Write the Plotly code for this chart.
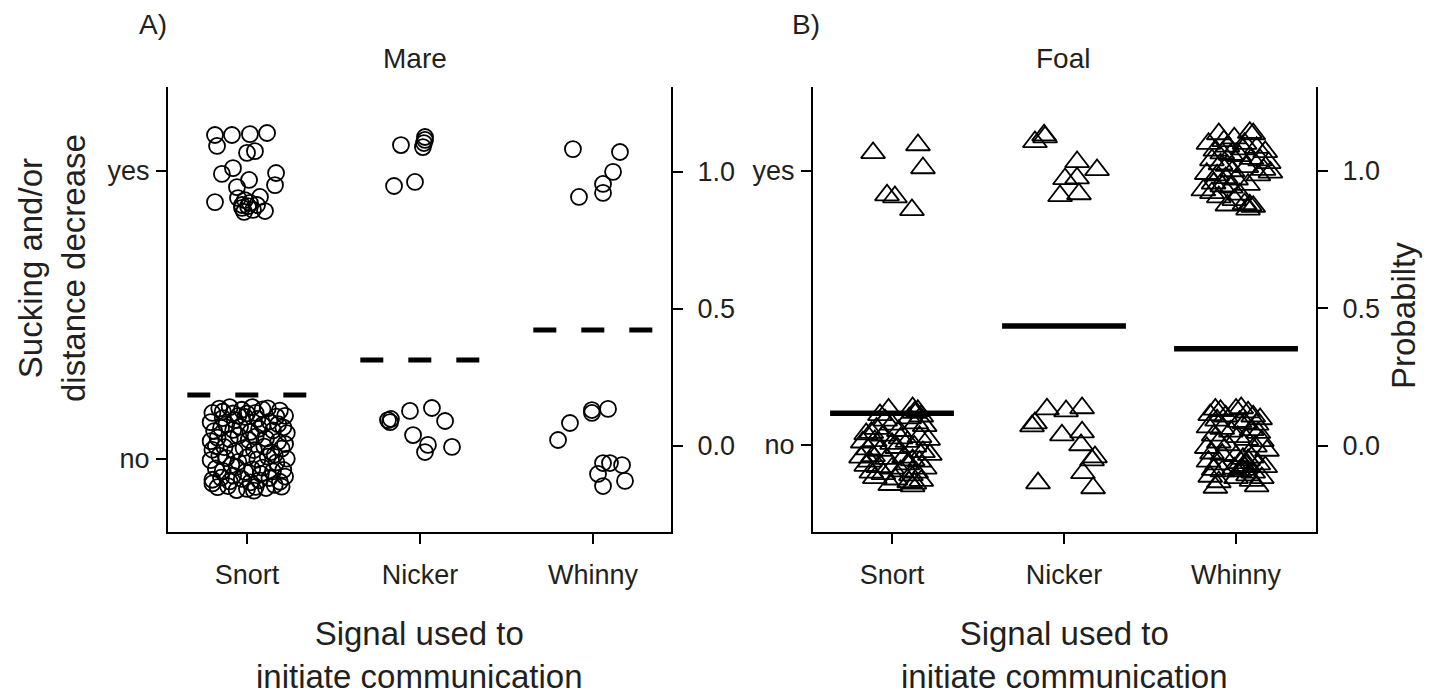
import plotly.graph_objects as go

W, H = 1437, 698

categories = ["Snort", "Nicker", "Whinny"]
cat_pos = [1, 2, 3]

# ---------- Panel A (Mare) : jittered raw observations (left axis: no=0, yes=1)
mare_snort_yes_x = [0.815, 0.913, 1.017, 1.116, 0.827, 1.000, 1.046, 0.855, 0.919, 1.012, 1.168, 1.162,
                    0.942, 0.815, 0.948, 0.988, 1.075, 0.971, 1.006, 1.035, 1.104, 0.971, 1.017, 1.058, 0.983]
mare_snort_yes_y = [1.125, 1.125, 1.128, 1.132, 1.087, 1.063, 1.069, 0.990, 1.010, 0.969, 0.993, 0.951,
                    0.944, 0.892, 0.906, 0.899, 0.910, 0.872, 0.878, 0.865, 0.861, 0.882, 0.889, 0.882, 0.858]

mare_snort_no_x = [0.84, 0.90, 0.97, 1.03, 1.12, 1.19, 0.80, 1.00, 1.22,
                   0.79, 0.86, 0.93, 0.99, 1.06, 1.13, 1.17, 0.88, 1.09,
                   0.81, 0.85, 0.92, 0.96, 1.02, 1.07, 1.15, 1.21, 1.23,
                   0.79, 0.83, 0.90, 0.95, 1.01, 1.05, 1.11, 1.18, 1.22,
                   0.80, 0.87, 0.93, 0.98, 1.04, 1.10, 1.14, 1.20, 0.84,
                   0.79, 0.88, 0.95, 1.00, 1.06, 1.12, 1.17, 1.23, 0.91,
                   0.82, 0.86, 0.94, 0.99, 1.03, 1.09, 1.15, 1.21, 1.08,
                   0.80, 0.85, 0.90, 0.97, 1.02, 1.07, 1.13, 1.19, 1.22,
                   0.80, 0.83, 0.89, 0.94, 1.00, 1.05, 1.11, 1.16, 1.20,
                   0.86, 0.92, 1.05, 1.09, 0.95, 1.18, 0.82, 1.16, 0.92, 1.04]
mare_snort_no_y = [0.175, 0.180, 0.171, 0.180, 0.176, 0.168, 0.160, 0.158, 0.150,
                   0.128, 0.142, 0.135, 0.146, 0.139, 0.130, 0.147, 0.120, 0.118,
                   0.097, 0.108, 0.101, 0.112, 0.094, 0.105, 0.099, 0.110, 0.090,
                   0.062, 0.074, 0.069, 0.081, 0.066, 0.078, 0.071, 0.060, 0.052,
                   0.032, 0.041, 0.027, 0.038, 0.031, 0.043, 0.024, 0.036, 0.012,
                   -0.004, 0.003, -0.010, 0.006, -0.002, 0.008, -0.012, 0.001, -0.021,
                   -0.033, -0.041, -0.028, -0.045, -0.036, -0.030, -0.043, -0.038, -0.052,
                   -0.072, -0.065, -0.078, -0.069, -0.081, -0.074, -0.066, -0.079, -0.061,
                   -0.085, -0.098, -0.094, -0.108, -0.104, -0.097, -0.101, -0.090, -0.096,
                   0.165, 0.158, 0.160, 0.172, 0.150, 0.121, 0.045, 0.015, -0.058, -0.110]

mare_nicker_yes_x = [1.890, 2.029, 2.029, 2.023, 2.017, 1.850, 1.971]
mare_nicker_yes_y = [1.090, 1.118, 1.108, 1.097, 1.083, 0.948, 0.962]
mare_nicker_no_x = [1.815, 1.827, 1.832, 1.942, 2.069, 2.145, 1.960, 2.046, 2.029, 2.185]
mare_nicker_no_y = [0.135, 0.128, 0.139, 0.167, 0.177, 0.132, 0.083, 0.049, 0.024, 0.042]

mare_whinny_yes_x = [2.884, 3.156, 3.116, 3.058, 3.058, 2.919]
mare_whinny_yes_y = [1.076, 1.066, 0.997, 0.955, 0.924, 0.910]
mare_whinny_no_x = [2.798, 2.867, 2.994, 2.994, 3.087, 3.058, 3.098, 3.168, 3.029, 3.058, 3.185]
mare_whinny_no_y = [0.066, 0.125, 0.170, 0.160, 0.174, -0.014, -0.014, -0.021, -0.052, -0.094, -0.076]

# model probabilities (right axis)
mare_prob = [0.186, 0.314, 0.423]

# ---------- Panel B (Foal)
foal_snort_yes_x = [0.890, 1.151, 1.180, 0.971, 1.017, 1.116]
foal_snort_yes_y = [1.066, 1.095, 1.011, 0.912, 0.905, 0.858]
foal_snort_no_x = [0.98, 1.12, 1.15, 1.13, 0.93, 1.17, 1.10, 0.96, 1.00, 1.14, 1.19, 0.91, 1.04, 0.85,
                   0.88, 0.95, 1.16, 1.21, 0.83, 0.90, 1.00, 1.09, 1.13, 0.86, 0.93, 1.03, 1.18, 1.22,
                   0.82, 0.89, 0.97, 1.07, 1.12, 1.16, 0.85, 0.92, 1.00, 1.09, 1.19, 0.88, 0.95, 1.05,
                   1.11, 1.14, 0.90, 1.02, 1.10, 1.13, 1.17, 0.99, 1.12, 0.87, 1.05]
foal_snort_no_y = [0.130, 0.135, 0.125, 0.118, 0.110, 0.105, 0.098, 0.090, 0.075, 0.080, 0.070, 0.060,
                   0.052, 0.040, 0.045, 0.035, 0.030, 0.020, 0.010, 0.015, 0.005, 0.012, -0.005, -0.015,
                   -0.020, -0.010, -0.025, -0.035, -0.045, -0.040, -0.050, -0.045, -0.055, -0.060,
                   -0.075, -0.080, -0.085, -0.070, -0.085, -0.100, -0.105, -0.095, -0.110, -0.100,
                   -0.120, -0.125, -0.135, -0.140, -0.130, -0.145, -0.150, -0.060, 0.025]

foal_nicker_yes_x = [1.831, 1.884, 1.890, 2.076, 2.192, 2.006, 2.076, 1.977, 2.087]
foal_nicker_yes_y = [1.106, 1.131, 1.124, 1.033, 1.004, 0.971, 0.974, 0.909, 0.916]
foal_nicker_no_x = [1.901, 2.012, 2.105, 1.831, 1.814, 1.988, 2.105, 2.099, 2.180, 2.163, 2.110, 1.849, 2.169]
foal_nicker_no_y = [0.131, 0.124, 0.135, 0.080, 0.069, 0.036, 0.047, 0.000, -0.044, -0.055, -0.102, -0.139, -0.157]

foal_whinny_yes_x = [2.90, 3.08, 3.10, 2.84, 2.93, 2.95, 3.05, 3.12, 3.17, 2.88, 2.92, 2.97, 3.02, 3.09,
                     3.14, 3.19, 2.86, 2.91, 2.95, 3.06, 3.16, 3.20, 2.83, 2.89, 2.94, 3.00, 3.13, 2.87,
                     2.92, 2.97, 3.07, 2.81, 2.86, 3.02, 2.99, 3.05, 3.08, 3.10, 2.95, 3.07, 2.90, 2.98,
                     3.04, 2.99]
foal_whinny_yes_y = [1.135, 1.140, 1.135, 1.100, 1.110, 1.090, 1.100, 1.085, 1.070, 1.075, 1.065, 1.060,
                     1.055, 1.045, 1.040, 1.030, 1.040, 1.025, 1.020, 1.015, 1.005, 0.995, 0.990, 0.985,
                     0.975, 0.970, 0.985, 0.955, 0.945, 0.940, 0.950, 0.930, 0.920, 0.915, 0.895, 0.880,
                     0.875, 0.870, 0.875, 0.860, 0.905, 1.000, 1.080, 1.120]
foal_whinny_no_x = [2.88, 2.91, 3.00, 3.03, 3.07, 2.85, 2.94, 3.10, 3.14, 2.89, 3.02, 3.05, 3.12, 2.84,
                    2.92, 2.97, 3.09, 3.13, 2.87, 3.01, 3.06, 3.15, 2.90, 2.95, 2.83, 3.11, 3.18, 2.86,
                    2.92, 3.00, 3.04, 3.07, 3.09, 2.84, 2.89, 3.03, 3.06, 3.13, 3.17, 2.87, 2.92, 2.99,
                    3.04, 3.10, 2.85, 3.00, 3.07, 3.15, 2.90, 3.09, 2.88, 3.12, 3.02, 3.05]
foal_whinny_no_y = [0.130, 0.125, 0.130, 0.135, 0.120, 0.110, 0.105, 0.105, 0.095, 0.090, 0.085, 0.080,
                    0.075, 0.065, 0.060, 0.050, 0.055, 0.045, 0.035, 0.030, 0.020, 0.015, 0.010, 0.000,
                    -0.010, -0.005, -0.020, -0.030, -0.035, -0.040, -0.050, -0.055, -0.045, -0.060,
                    -0.070, -0.065, -0.075, -0.070, -0.080, -0.090, -0.095, -0.085, -0.090, -0.100,
                    -0.115, -0.120, -0.110, -0.120, -0.135, -0.130, -0.155, -0.150, -0.095, -0.080]

foal_prob = [0.119, 0.436, 0.353]

left_ticks = ["no", "yes"]
right_tickvals = [0.0, 0.5, 1.0]
right_ticktext = ["0.0", "0.5", "1.0"]

# ---------- figure
TXT = "#231f20"
FONT = "Liberation Sans, Arial, sans-serif"
fig = go.Figure()

circ = dict(symbol="circle-open", size=16, color="black", line=dict(width=1.8, color="black"))
tri = dict(symbol="triangle-up-open", size=21, color="black", line=dict(width=1.8, color="black"))

for xs, ys in [(mare_snort_yes_x, mare_snort_yes_y), (mare_snort_no_x, mare_snort_no_y),
               (mare_nicker_yes_x, mare_nicker_yes_y), (mare_nicker_no_x, mare_nicker_no_y),
               (mare_whinny_yes_x, mare_whinny_yes_y), (mare_whinny_no_x, mare_whinny_no_y)]:
    fig.add_trace(go.Scatter(x=xs, y=ys, mode="markers", marker=circ, xaxis="x", yaxis="y",
                             showlegend=False, hoverinfo="skip"))

for xs, ys in [(foal_snort_yes_x, foal_snort_yes_y), (foal_snort_no_x, foal_snort_no_y),
               (foal_nicker_yes_x, foal_nicker_yes_y), (foal_nicker_no_x, foal_nicker_no_y),
               (foal_whinny_yes_x, foal_whinny_yes_y), (foal_whinny_no_x, foal_whinny_no_y)]:
    fig.add_trace(go.Scatter(x=xs, y=ys, mode="markers", marker=tri, xaxis="x2", yaxis="y3",
                             showlegend=False, hoverinfo="skip"))

HALF_A = 0.345
HALF_B = 0.36
for c, p in zip(cat_pos, mare_prob):
    fig.add_trace(go.Scatter(x=[c - HALF_A, c + HALF_A], y=[p, p], mode="lines",
                             line=dict(color="black", width=5, dash="23px,25px"),
                             xaxis="x", yaxis="y2", showlegend=False, hoverinfo="skip"))
for c, p in zip(cat_pos, foal_prob):
    fig.add_trace(go.Scatter(x=[c - HALF_B, c + HALF_B], y=[p, p], mode="lines",
                             line=dict(color="black", width=5.5),
                             xaxis="x2", yaxis="y4", showlegend=False, hoverinfo="skip"))

ydom = [1 - 532 / H, 1 - 87 / H]
axcommon = dict(showline=True, linecolor="black", linewidth=2, ticks="outside", ticklen=10,
                tickwidth=2, tickcolor="black", showgrid=False, zeroline=False, fixedrange=True,
                tickfont=dict(family=FONT, size=27, color=TXT))

fig.update_layout(
    width=W, height=H, margin=dict(l=0, r=0, t=0, b=0),
    paper_bgcolor="white", plot_bgcolor="white",
    xaxis=dict(domain=[168 / W, 671 / W], range=[0.5434, 3.4509], tickvals=cat_pos,
               ticktext=categories, anchor="y", ticklabelstandoff=8, **axcommon),
    yaxis=dict(domain=ydom, range=[-0.2535, 1.2917], tickvals=[0, 1], ticktext=left_ticks,
               anchor="x", side="left", ticklabelstandoff=1, **axcommon),
    yaxis2=dict(range=[-0.314, 1.310], tickvals=right_tickvals, ticktext=right_ticktext,
                overlaying="y", anchor="x", side="right", ticklabelstandoff=9, **axcommon),
    xaxis2=dict(domain=[813 / W, 1316 / W], range=[0.5407, 3.465], tickvals=cat_pos,
                ticktext=categories, anchor="y3", ticklabelstandoff=8, **axcommon),
    yaxis3=dict(domain=ydom, range=[-0.3175, 1.3066], tickvals=[0, 1], ticktext=left_ticks,
                anchor="x2", side="left", ticklabelstandoff=1, **axcommon),
    yaxis4=dict(range=[-0.313, 1.305], tickvals=right_tickvals, ticktext=right_ticktext,
                overlaying="y3", anchor="x2", side="right", ticklabelstandoff=9, **axcommon),
)

def ann(text, px, py, size, angle=0):
    fig.add_annotation(text=text, x=px / W, y=1 - py / H, xref="paper", yref="paper",
                       xanchor="center", yanchor="middle", showarrow=False, textangle=angle,
                       font=dict(family=FONT, size=size, color=TXT))

ann("A)", 153, 24, 28)
ann("B)", 806, 24, 28)
ann("Mare", 415, 58, 28)
ann("Foal", 1063, 58, 28)
ann("Signal used to<br>initiate communication", 419, 655, 33)
ann("Signal used to<br>initiate communication", 1064, 655, 33)
ann("Sucking and/or<br>distance decrease", 52, 268, 33, -90)
ann("Probabilty", 1403, 316, 33, -90)

fig.write_html("out.html")
